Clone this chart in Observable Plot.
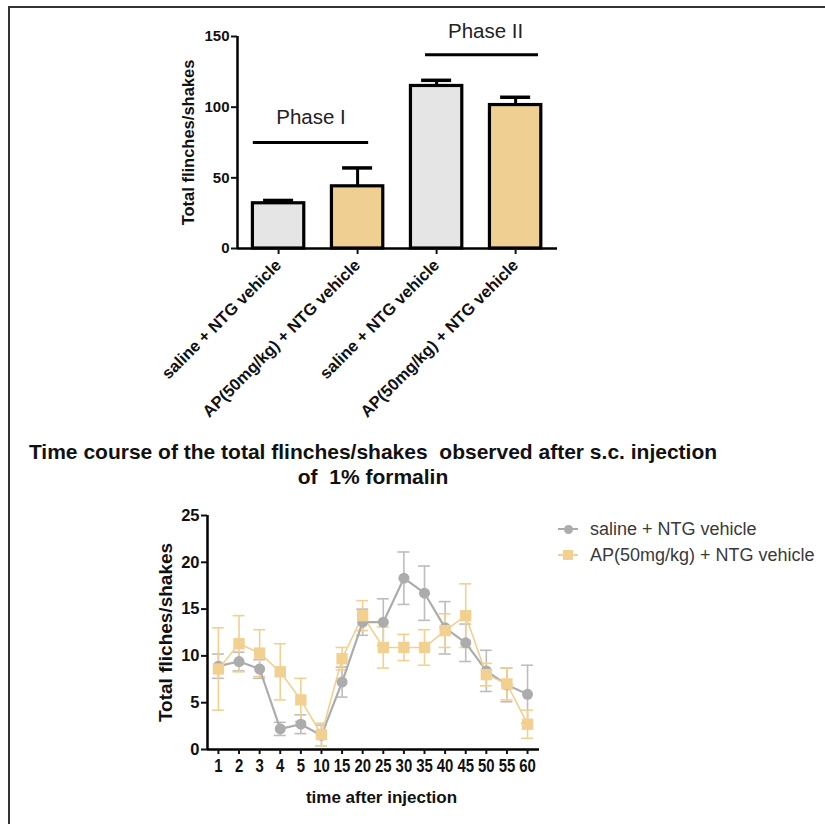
<!DOCTYPE html>
<html>
<head>
<meta charset="utf-8">
<script src="https://cdn.jsdelivr.net/npm/d3@7"></script>
<script src="https://cdn.jsdelivr.net/npm/@observablehq/plot@0.6"></script>
<style>
  html, body { margin: 0; padding: 0; background: #fff; }
  #page { position: relative; width: 825px; height: 824px; overflow: hidden; font-family: "Liberation Sans", Arial, sans-serif; }
  .abs { position: absolute; }
  #border-top { left: 9px; top: 6px; width: 830px; height: 2px; background: #333; }
  #border-left { left: 8px; top: 6px; width: 2px; height: 830px; background: #333; }
  #title { left: 0; top: 439px; width: 746px; text-align: center; font-weight: bold; font-size: 21px; line-height: 25px; white-space: pre; color: #111; }
  .leg { font-size: 18px; color: #3a3a3a; white-space: nowrap; }
</style>
</head>
<body>
<div id="page">
  <div id="border-top" class="abs"></div>
  <div id="border-left" class="abs"></div>
  <div id="bar" class="abs" style="left:0;top:0"></div>
  <div id="title" class="abs"></div>
  <div id="line" class="abs" style="left:0;top:500px"></div>
  <div id="legend" class="abs" style="left:0;top:0"></div>
</div>
<script>
// ---------- Bar chart data ----------
const barLabels = ["saline + NTG vehicle", "AP(50mg/kg) + NTG vehicle", "saline + NTG vehicle", "AP(50mg/kg) + NTG vehicle"];
const barValues = [32, 44, 115, 101.5];
const barErrors = [2, 13, 4, 5.5];
const barYTicks = [0, 50, 100, 150];
const barYLabel = "Total flinches/shakes";
const phaseNames = ["Phase I", "Phase II"];
const phaseLineY = [75, 137];
const phaseStart = [0.68, 2.86];
const phaseEnd = [2.14, 4.29];
const phaseTextX = [1.41, 3.62];
const phaseTextY = [93, 153.5];

// ---------- Time course data ----------
const times = ["1","2","3","4","5","10","15","20","25","30","35","40","45","50","55","60"];
const salineMean = [8.9, 9.4, 8.6, 2.2, 2.7, 1.5, 7.2, 13.6, 13.6, 18.3, 16.7, 13.0, 11.4, 8.4, 6.9, 5.9];
const salineSem  = [1.3, 1.0, 1.0, 0.7, 1.0, 1.1, 1.6, 1.4, 2.5, 2.8, 2.9, 2.8, 2.0, 2.2, 1.8, 3.1];
const apMean = [8.6, 11.3, 10.3, 8.3, 5.3, 1.6, 9.7, 14.3, 10.9, 10.9, 10.9, 12.7, 14.3, 8.0, 7.0, 2.7];
const apSem  = [4.4, 3.0, 2.5, 3.0, 2.3, 1.2, 1.2, 1.6, 2.2, 1.4, 1.9, 1.8, 3.4, 1.2, 1.7, 1.5];
const lineYTicks = [0, 5, 10, 15, 20, 25];
const seriesNames = ["saline + NTG vehicle", "AP(50mg/kg) + NTG vehicle"];
const lineYLabel = "Total fliches/shakes";
const lineXLabel = "time after injection";
const titleLines = ["Time course of the total flinches/shakes  observed after s.c. injection", "of  1% formalin"];

const GRAY_FILL = "#e5e5e5", TAN_FILL = "#f0cf92";
const GRAY_LINE = "#acacac", GRAY_ERR = "#bdbdbd", TAN_LINE = "#f2d08f";
const FONT = "Liberation Sans, Arial, sans-serif";

// ---------- Bar chart ----------
const bars = barValues.map((v, i) => ({
  i: i + 1, value: v, top: v + barErrors[i], label: barLabels[i],
  fill: i % 2 === 0 ? GRAY_FILL : TAN_FILL
}));
const phases = phaseNames.map((n, k) => ({name: n, y: phaseLineY[k], x1: phaseStart[k], x2: phaseEnd[k], tx: phaseTextX[k], ty: phaseTextY[k]}));
const bxMin = 0.48, bxMax = 4.53, half = 0.325, capHalf = 0.19;

const barPlot = Plot.plot({
  width: 600, height: 440,
  marginLeft: 237, marginRight: 43, marginTop: 36, marginBottom: 192,
  style: {fontFamily: FONT, background: "transparent", color: "#111", overflow: "visible"},
  x: {domain: [bxMin, bxMax]},
  y: {domain: [0, 150]},
  marks: [
    Plot.ruleX(bars, {x: "i", y1: "value", y2: "top", stroke: "#000", strokeWidth: 3}),
    Plot.ruleY(bars, {y: "top", x1: d => d.i - capHalf, x2: d => d.i + capHalf, stroke: "#000", strokeWidth: 3.5}),
    Plot.rectY(bars, {x1: d => d.i - half, x2: d => d.i + half, y1: 0, y2: "value", fill: "fill", stroke: "#000", strokeWidth: 3.2}),
    Plot.ruleY(phases, {y: "y", x1: "x1", x2: "x2", stroke: "#000", strokeWidth: 3}),
    Plot.text(phases, {x: "tx", y: "ty", text: "name", fontSize: 20.5, fill: "#222"}),
    Plot.ruleX([bxMin], {y1: 0, y2: 150, stroke: "#000", strokeWidth: 2.5}),
    Plot.ruleY([0], {x1: bxMin, x2: bxMax, stroke: "#000", strokeWidth: 2.5}),
    Plot.axisY({ticks: barYTicks, tickSize: 6, tickPadding: 2, strokeWidth: 2, fontSize: 15, fontWeight: "bold", label: null}),
    Plot.axisX({ticks: [1, 2, 3, 4], tickFormat: d => barLabels[d - 1], tickSize: 6, strokeWidth: 2, tickRotate: -45, tickPadding: 8, fontSize: 16.5, fontWeight: "bold", label: null}),
    Plot.text([barYLabel], {frameAnchor: "left", textAnchor: "middle", rotate: -90, dx: -49, fontSize: 16.5, fontWeight: "bold", fill: "#111"})
  ]
});
document.getElementById("bar").appendChild(barPlot);

// ---------- Title ----------
document.getElementById("title").textContent = titleLines.join("\n");

// ---------- Line chart ----------
const saline = times.map((t, i) => ({i, mean: salineMean[i], lo: salineMean[i] - salineSem[i], hi: salineMean[i] + salineSem[i]}));
const ap = times.map((t, i) => ({i, mean: apMean[i], lo: apMean[i] - apSem[i], hi: apMean[i] + apSem[i]}));
const lxMin = -0.53, lxMax = 15.58, cap = 0.29;

function errMarks(data, color, w) {
  return [
    Plot.ruleX(data, {x: "i", y1: "lo", y2: "hi", stroke: color, strokeWidth: w}),
    Plot.ruleY(data, {y: "hi", x1: d => d.i - cap, x2: d => d.i + cap, stroke: color, strokeWidth: w}),
    Plot.ruleY(data, {y: "lo", x1: d => d.i - cap, x2: d => d.i + cap, stroke: color, strokeWidth: w})
  ];
}

const linePlot = Plot.plot({
  width: 560, height: 316,
  marginLeft: 207, marginRight: 21, marginTop: 15, marginBottom: 67,
  style: {fontFamily: FONT, background: "transparent", color: "#111", overflow: "visible"},
  x: {domain: [lxMin, lxMax]},
  y: {domain: [0, 25]},
  marks: [
    ...errMarks(saline, GRAY_ERR, 1.6),
    ...errMarks(ap, TAN_LINE, 1.6),
    Plot.line(saline, {x: "i", y: "mean", stroke: GRAY_LINE, strokeWidth: 2.2}),
    Plot.line(ap, {x: "i", y: "mean", stroke: TAN_LINE, strokeWidth: 1.6}),
    Plot.dot(saline, {x: "i", y: "mean", r: 5.5, fill: GRAY_LINE, symbol: "circle"}),
    Plot.dot(ap, {x: "i", y: "mean", r: 6.4, fill: TAN_LINE, symbol: "square"}),
    Plot.ruleX([lxMin], {y1: 0, y2: 25, stroke: "#000", strokeWidth: 2.5}),
    Plot.ruleY([0], {x1: lxMin, x2: lxMax, stroke: "#000", strokeWidth: 2.5}),
    Plot.axisY({ticks: lineYTicks, tickSize: 6, tickPadding: 2, strokeWidth: 2, fontSize: 16.5, fontWeight: "bold", label: null}),
    Plot.axisX({ticks: d3.range(times.length), tickFormat: d => times[d], tickSize: 5, tickPadding: 4, strokeWidth: 2, fontSize: 18.5, fontWeight: "bold", label: null}),
    Plot.text([lineYLabel], {frameAnchor: "left", textAnchor: "middle", rotate: -90, dx: -42, fontSize: 19, fontWeight: "bold", fill: "#111"}),
    Plot.text([lineXLabel], {frameAnchor: "bottom", dy: 53, dx: 8, fontSize: 17, fontWeight: "bold", fill: "#111"})
  ]
});
document.getElementById("line").appendChild(linePlot);

// condense the time tick labels (reference uses a narrow bold face)
const timeSet = new Set(times);
linePlot.querySelectorAll("text").forEach(t => {
  const g = t.closest("g[aria-label]");
  const lab = g ? g.getAttribute("aria-label") : "";
  if (lab.indexOf("x-axis") === 0 && timeSet.has(t.textContent)) {
    t.setAttribute("textLength", (t.textContent.length * 8.3).toFixed(1));
    t.setAttribute("lengthAdjust", "spacingAndGlyphs");
  }
});

// ---------- Legend ----------
const legend = document.getElementById("legend");
const legY = [529, 555];
const legColors = [GRAY_LINE, TAN_LINE];
seriesNames.forEach((name, k) => {
  const y = legY[k];
  const seg = document.createElement("div");
  seg.className = "abs";
  Object.assign(seg.style, {left: "558px", top: (y - 1) + "px", width: "20px", height: "2px", background: legColors[k]});
  legend.appendChild(seg);
  const mk = document.createElement("div");
  mk.className = "abs";
  const s = k === 0 ? 9 : 10;
  Object.assign(mk.style, {left: (568 - s / 2) + "px", top: (y - s / 2) + "px", width: s + "px", height: s + "px", background: legColors[k], borderRadius: k === 0 ? "50%" : "0"});
  legend.appendChild(mk);
  const tx = document.createElement("div");
  tx.className = "abs leg";
  Object.assign(tx.style, {left: "590px", top: (y - 11) + "px", lineHeight: "22px"});
  tx.textContent = name;
  legend.appendChild(tx);
});
</script>
</body>
</html>
